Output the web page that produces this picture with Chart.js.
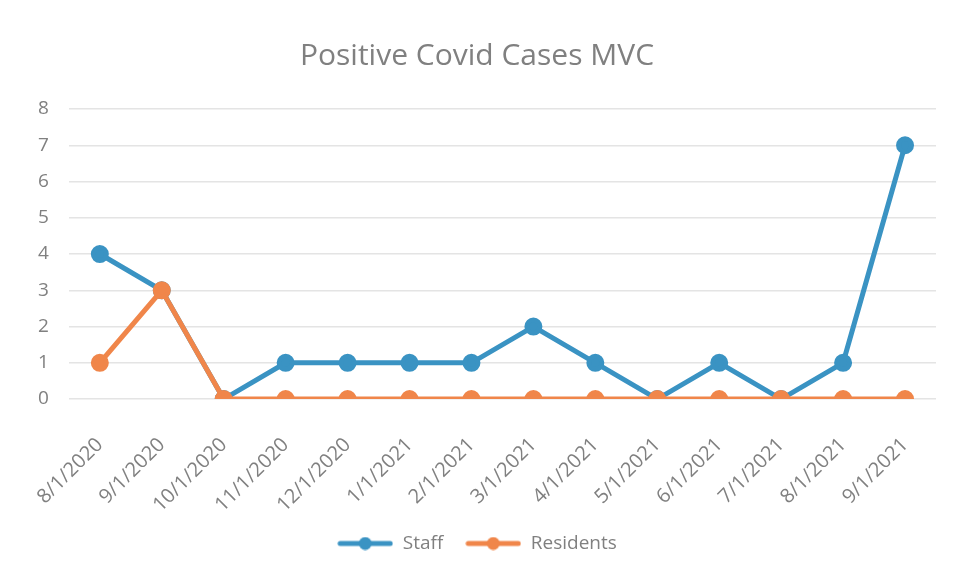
<!DOCTYPE html>
<html><head><meta charset="utf-8">
<script src="https://cdn.jsdelivr.net/npm/chart.js@4/dist/chart.umd.min.js"></script>
<style>html,body{margin:0;padding:0;background:#fff}#wrap{width:958px;height:577px;position:relative}</style>
</head><body><div id="wrap"><canvas id="c" width="958" height="577"></canvas></div>
<script>
const categories = ["8/1/2020","9/1/2020","10/1/2020","11/1/2020","12/1/2020","1/1/2021","2/1/2021","3/1/2021","4/1/2021","5/1/2021","6/1/2021","7/1/2021","8/1/2021","9/1/2021"];
const staff = [4,3,0,1,1,1,1,2,1,0,1,0,1,7];
const residents = [1,3,0,0,0,0,0,0,0,0,0,0,0,0];
const yTicks = [0,1,2,3,4,5,6,7,8];

const BLUE = '#3a93c3', ORANGE = '#f0864a', GRAY = '#808080';
const FONT = "'Open Sans', 'Liberation Sans', sans-serif";

function legendIcon(color){
  const c = document.createElement('canvas'); c.width = 56; c.height = 14;
  const g = c.getContext('2d');
  g.strokeStyle = color; g.lineWidth = 5; g.lineCap='round';
  g.beginPath(); g.moveTo(3,7); g.lineTo(53,7); g.stroke();
  g.fillStyle = color; g.beginPath(); g.arc(28,7,6.5,0,Math.PI*2); g.fill();
  return c;
}

new Chart(document.getElementById('c'), {
  type: 'line',
  data: {
    labels: categories,
    datasets: [
      {label:'Staff', data: staff, borderColor: BLUE, backgroundColor: BLUE, borderWidth: 5, pointRadius: 6.5, pointBackgroundColor: BLUE, pointBorderColor: BLUE, order: 1, pointStyle: 'circle'},
      {label:'Residents', data: residents, borderColor: ORANGE, backgroundColor: ORANGE, borderWidth: 5, pointRadius: 6.5, pointBackgroundColor: ORANGE, pointBorderColor: ORANGE, order: 0, pointStyle: 'circle'}
    ]
  },
  options: {
    responsive: false, animation: false,
    layout: {padding: {left: 18, right: 22, top: 26, bottom: 14}},
    plugins: {
      title: {display: true, text: 'Positive Covid Cases MVC', color: GRAY, font: {family: FONT, size: 30, weight: 'normal'}, padding: {top: 12, bottom: 35}},
      legend: {position: 'bottom', labels: {color: GRAY, font: {family: FONT, size: 19}, usePointStyle: true, pointStyleWidth: 56, boxHeight: 14,
        generateLabels(chart){
          return chart.data.datasets.map((d,i)=>({text: d.label, fontColor: GRAY, pointStyle: legendIcon(d.borderColor), datasetIndex: i, hidden:false, lineWidth:0, strokeStyle:'transparent', fillStyle:'transparent'}));
        }, padding: 22}},
      tooltip: {enabled: false}
    },
    scales: {
      x: {offset: true, grid: {display: false}, border: {display: false},
        afterFit(scale){ scale.height = scale.height - 31; },
        ticks: {color: GRAY, font: {family: FONT, size: 20}, maxRotation: 45, minRotation: 45, autoSkip: false, padding: 26}},
      y: {min: 0, max: 8, grid: {color: '#e4e4e4', lineWidth: 1.5, drawTicks: false}, border: {display: false},
        afterBuildTicks(ax){ ax.ticks = yTicks.map(v=>({value:v})); },
        ticks: {color: GRAY, font: {family: FONT, size: 19}, padding: 20}}
    }
  }
});
</script></body></html>
